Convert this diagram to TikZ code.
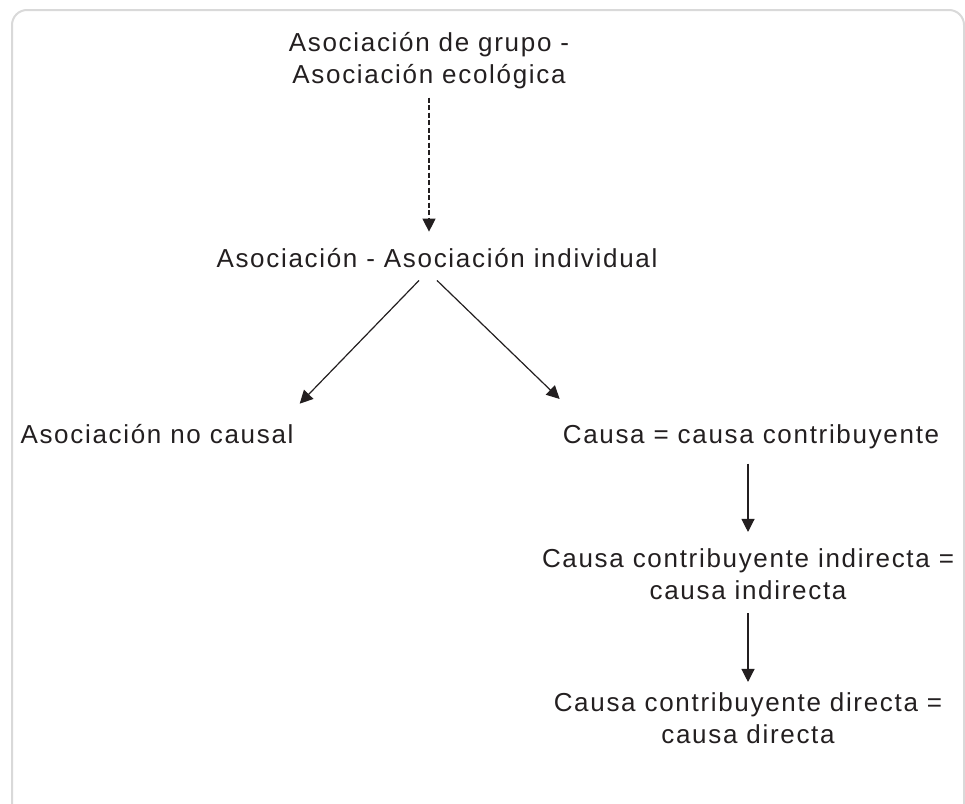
\documentclass[tikz,border=0pt]{standalone}
\usepackage{fontspec}
\setmainfont{Liberation Sans}[LetterSpace=6.5]
\usetikzlibrary{arrows.meta}
\definecolor{framegray}{HTML}{D9D9D9}
\definecolor{ink}{HTML}{231F20}
\begin{document}
\begin{tikzpicture}[x=1pt,y=-1pt,
  lbl/.style={text=ink,inner sep=0pt,anchor=base,align=center,font=\fontsize{26}{32}\selectfont},
  arr/.style={draw=ink,line width=1.2pt,-{Triangle[width=13pt,length=13pt]}}]
\useasboundingbox (0,0) rectangle (965,803);
\clip (0,0) rectangle (965,803);
% frame, cut at the bottom
\draw[framegray,line width=2pt,rounded corners=15pt] (12,10) rectangle (964,840);
% labels
\node[lbl] (grupo) at (429,83) {Asociación de grupo -\\Asociación ecológica};
\node[lbl] (indiv) at (437,267) {Asociación - Asociación individual};
\node[lbl] (nocausal) at (157,443) {Asociación no causal};
\node[lbl] (contrib) at (751,443) {Causa = causa contribuyente};
\node[lbl] (indirecta) at (748,599) {Causa contribuyente indirecta =\\causa indirecta};
\node[lbl] (directa) at (748,743) {Causa contribuyente directa =\\causa directa};
% arrows
\draw[arr,dashed,dash pattern=on 5pt off 2.5pt,shorten <=9pt,shorten >=16pt] (grupo.south) -- (grupo.south |- indiv.north);
\draw[arr] ([xshift=-18pt,yshift=-13pt]indiv.south) -- ([xshift=6pt,yshift=20pt]nocausal.north east);
\draw[arr] ([yshift=-13pt]indiv.south) -- ([xshift=-3pt,yshift=25pt]contrib.north west);
\draw[arr,shorten <=15pt,shorten >=16pt] (contrib.south -| indirecta.north) -- (indirecta.north);
\draw[arr,shorten <=14pt,shorten >=10pt] (indirecta.south) -- (directa.north);
\end{tikzpicture}
\end{document}
